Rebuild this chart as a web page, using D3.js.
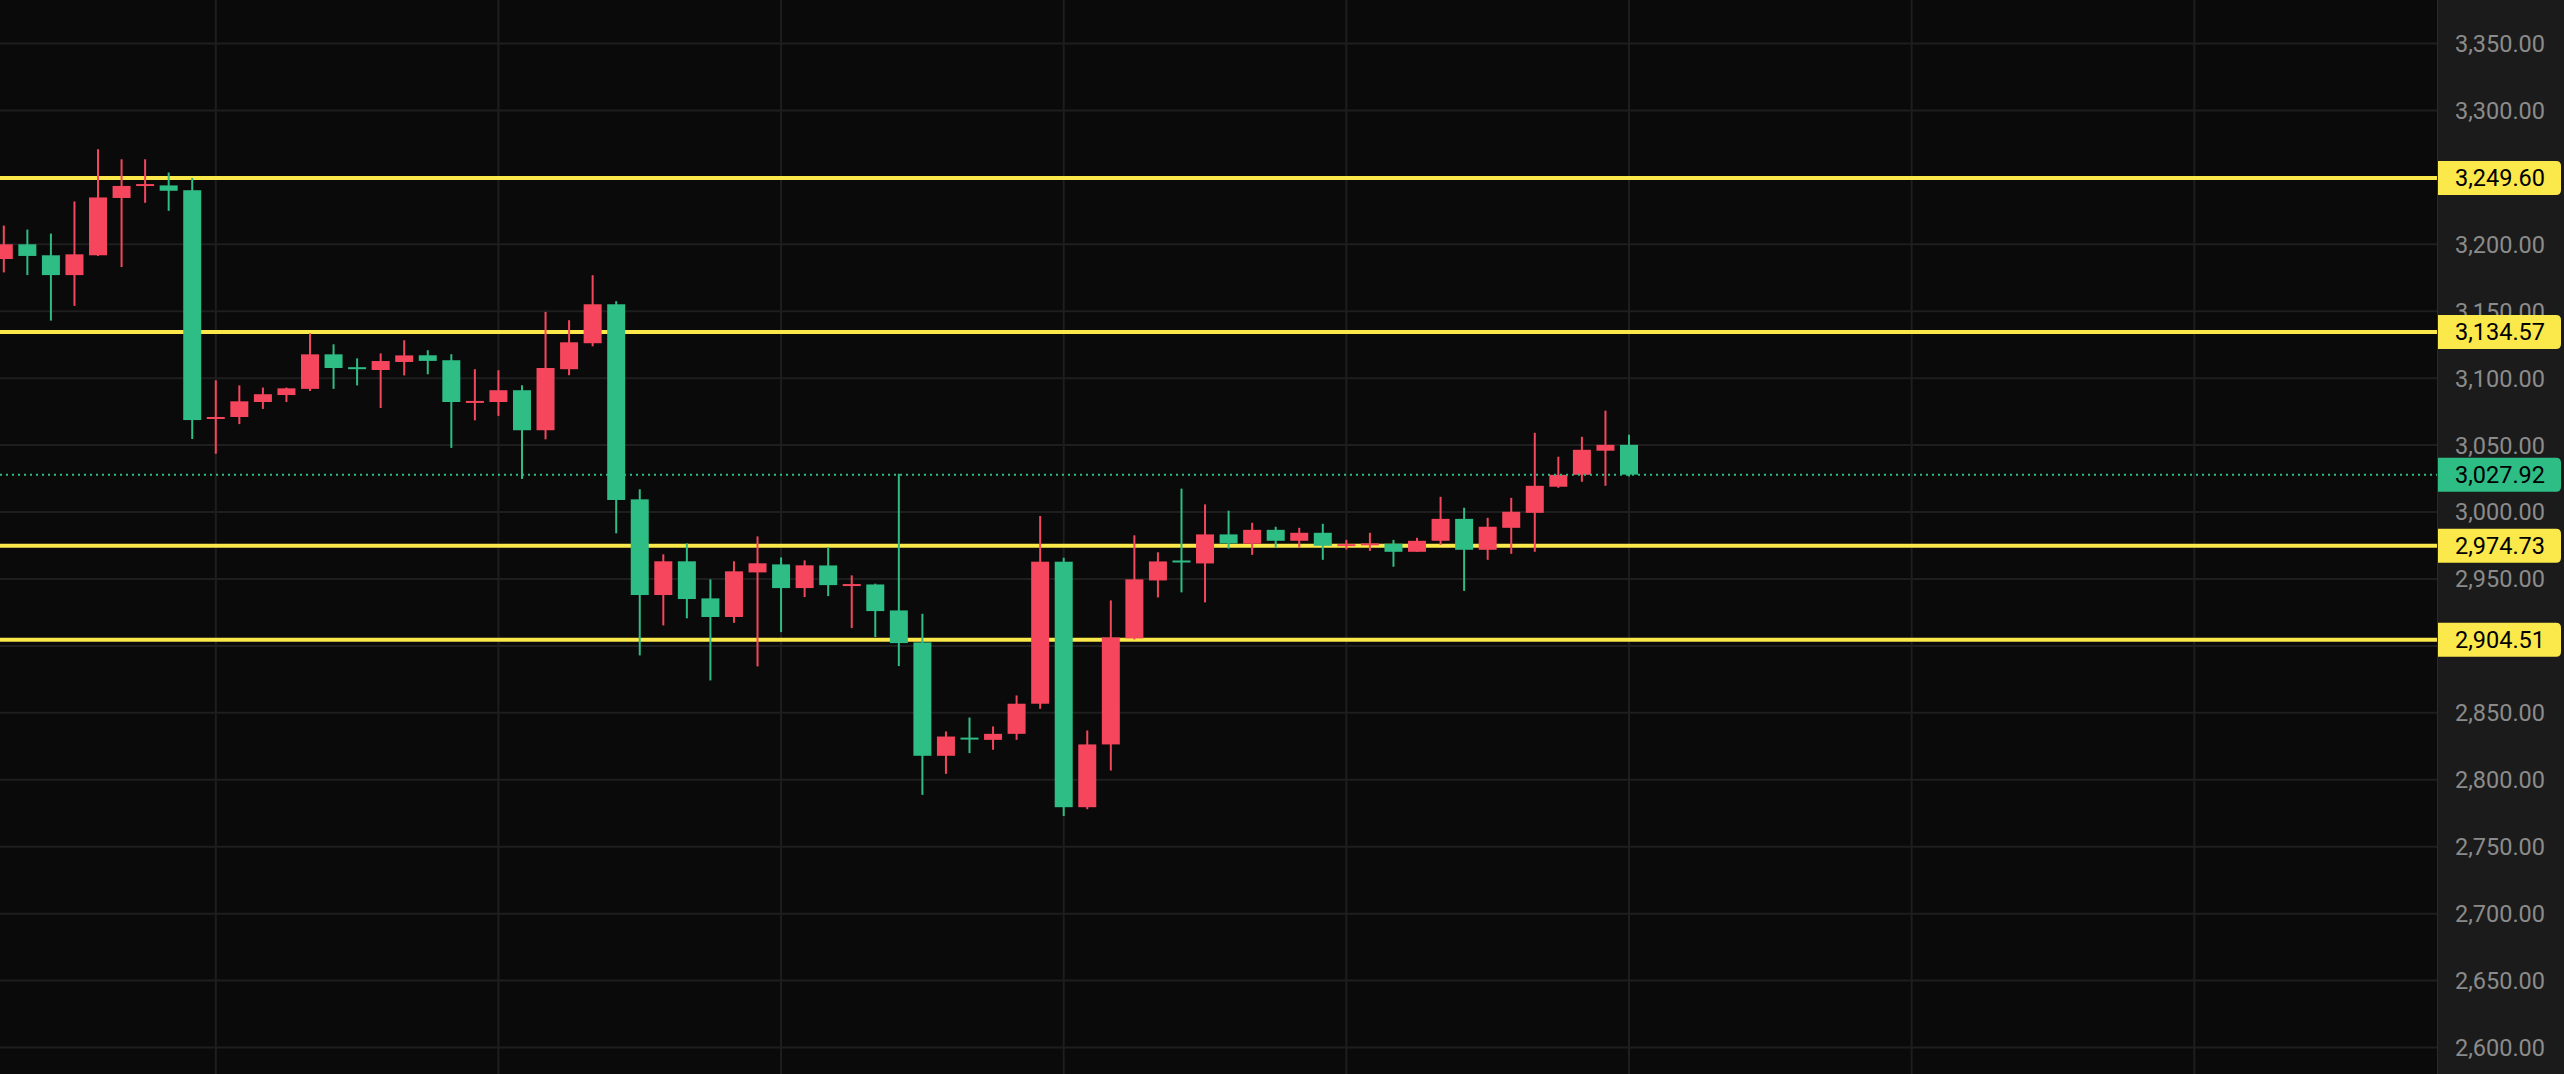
<!DOCTYPE html>
<html>
<head>
<meta charset="utf-8">
<script src="https://cdn.jsdelivr.net/npm/d3@7"></script>
<style>
  html, body { margin: 0; padding: 0; background: #0a0a0a; overflow: hidden; }
  svg { display: block; }
</style>
</head>
<body>
<svg id="chart" width="2564" height="1074"></svg>
<script>
// ---- Data ----
const opens  = [3189,3200,3191.8,3177,3191.8,3234.6,3244,3244,3240.4,3069.5,3071,3082.2,3087.4,3092,3117.8,3108.2,3106.1,3112.1,3117.1,3113.4,3082.4,3082.2,3091,3061.1,3106.7,3126.1,3155.2,3009.5,2938,2963.2,2935.5,2921.6,2954.9,2960.9,2943.2,2960.1,2945.5,2945.9,2926.5,2902.6,2817.9,2831.5,2829.8,2834.3,2856.8,2962.9,2779.5,2826.4,2905.6,2948.9,2963.8,2961.6,2983.3,2976.3,2986.7,2978.5,2984.5,2975.5,2976,2976.3,2970.3,2978.5,2994.9,2971.8,2988.2,2999.4,3018.9,3027.8,3045.8,3050.2];
const highs  = [3214,3211,3208,3232,3271,3263.5,3263.5,3253.6,3249.6,3098.4,3094.6,3093,3093,3133.5,3125.3,3114.8,3118.5,3128.3,3120.9,3117.9,3106.7,3105.9,3094.7,3149.5,3143.3,3176.9,3157.5,3017,2968.4,2976.6,2949.7,2963.2,2981.8,2966.1,2963.9,2973.8,2952.7,2946.5,3028.6,2924,2836.1,2846.5,2839.8,2863,2997,2965.9,2836.8,2934,2982.6,2969.9,3017.5,3005.7,3001,2992,2989,2988.2,2991.2,2979.2,2984.5,2979.2,2980.7,3011.4,3003.2,2995.7,3010.6,3059.2,3041.3,3056.2,3075.7,3057.7];
const lows   = [3179,3177,3143,3154,3191.3,3183,3231,3225,3054.5,3043.5,3065.7,3077,3082.2,3090.4,3092,3094.6,3077.7,3102.1,3102.9,3047.9,3068.5,3071.8,3024.7,3054.3,3102.2,3123.8,2984.1,2892.9,2915.3,2920.6,2874.2,2917.3,2884.7,2910.3,2936.5,2937.2,2913.3,2906.6,2884.9,2788.7,2804.4,2819.9,2822.4,2829.8,2853,2773,2778,2806.9,2904.8,2936.2,2940,2932.5,2972.7,2968,2973.5,2973.5,2964.3,2972,2971,2959.1,2970.3,2975.5,2941.1,2964.3,2968.8,2970.3,3018.1,3022.6,3019.6,3026.5];
const closes = [3200,3191.3,3177,3192.5,3235,3243.6,3245,3240,3068.7,3071,3082.7,3088,3092.4,3117.8,3107.6,3107.4,3112.8,3117,3112.9,3082.2,3083,3091,3061.1,3107.6,3126.8,3155.2,3009,2938,2963.2,2935,2921.6,2955.7,2961.7,2943.2,2960.2,2945.4,2946.2,2926,2902.1,2817.9,2832.3,2830.5,2834.3,2856.8,2962.9,2779.5,2826.4,2906.3,2949.7,2963.1,2963,2983.3,2976.5,2986.7,2978.5,2984.5,2974.8,2976,2976.6,2970.3,2978.5,2994.9,2971.8,2989,3000.2,3019.6,3027.8,3046.5,3050.2,3027.92];
const levels = [3249.60, 3134.57, 2974.73, 2904.51];
const lastPrice = 3027.92;
const priceTicks = [3350,3300,3250,3200,3150,3100,3050,3000,2950,2900,2850,2800,2750,2700,2650,2600];
// tick labels that the price badges cover completely in the reference are not drawn
const priceTickLabels = [3350,3300,3200,3150,3100,3050,3000,2950,2850,2800,2750,2700,2650,2600];
const timeGridIdx = [9,21,33,45,57,69,81,93];

// ---- Layout ----
const W = 2564, H = 1074, plotRight = 2437;
const UP = "#f6465d", DOWN = "#2ebd85", YELLOW = "#fbe84a";
const FONT = "Roboto, 'Liberation Sans', Arial, sans-serif";

const svg = d3.select("#chart");
const x = d3.scaleLinear().domain([0, 69]).range([3.8, 1629]);
const y = d3.scaleLinear().domain([2600, 3350]).range([1047.5, 43.5]);
const fmt = d3.format(",.2f");
const candles = opens.map((o, i) => ({ i, o, h: highs[i], l: lows[i], c: closes[i] }));

svg.append("rect").attr("width", W).attr("height", H).attr("fill", "#0a0a0a");

const plot = svg.append("g");
plot.append("clipPath").attr("id", "clip").append("rect").attr("width", plotRight).attr("height", H);
const pg = plot.append("g").attr("clip-path", "url(#clip)");

// grid
pg.selectAll("line.hg").data(priceTicks).join("line")
  .attr("x1", 0).attr("x2", plotRight)
  .attr("y1", d => y(d)).attr("y2", d => y(d))
  .attr("stroke", "#1e1e1e").attr("stroke-width", 2);
pg.selectAll("line.vg").data(timeGridIdx).join("line")
  .attr("x1", d => x(d)).attr("x2", d => x(d))
  .attr("y1", 0).attr("y2", H)
  .attr("stroke", "#1e1e1e").attr("stroke-width", 2);

// level lines
pg.selectAll("line.lvl").data(levels).join("line")
  .attr("x1", 0).attr("x2", plotRight)
  .attr("y1", d => y(d)).attr("y2", d => y(d))
  .attr("stroke", YELLOW).attr("stroke-width", 4);

// candles
const bw = 18;
const cg = pg.selectAll("g.c").data(candles).join("g");
cg.append("line")
  .attr("x1", d => x(d.i)).attr("x2", d => x(d.i))
  .attr("y1", d => y(d.h)).attr("y2", d => y(d.l))
  .attr("stroke", d => d.c >= d.o ? UP : DOWN).attr("stroke-width", 2);
cg.append("rect")
  .attr("x", d => x(d.i) - bw / 2).attr("width", bw)
  .attr("y", d => y(Math.max(d.o, d.c)))
  .attr("height", d => Math.max(2, Math.abs(y(d.o) - y(d.c))))
  .attr("fill", d => d.c >= d.o ? UP : DOWN);

// last price dotted line
pg.append("line")
  .attr("x1", 0).attr("x2", plotRight)
  .attr("y1", y(lastPrice)).attr("y2", y(lastPrice))
  .attr("stroke", DOWN).attr("stroke-width", 2).attr("stroke-dasharray", "2,4");

// ---- price axis panel ----
svg.append("rect").attr("x", plotRight).attr("y", 0).attr("width", W - plotRight).attr("height", H).attr("fill", "#1b1b1b");
svg.append("line").attr("x1", plotRight + 0.5).attr("x2", plotRight + 0.5).attr("y1", 0).attr("y2", H)
  .attr("stroke", "#2a2a2a").attr("stroke-width", 1);

svg.append("g").selectAll("text").data(priceTickLabels).join("text")
  .attr("x", 2545).attr("y", d => y(d)).attr("dy", "0.36em")
  .attr("text-anchor", "end").attr("font-family", FONT).attr("font-size", 23.5)
  .attr("fill", "#8b8b8b").text(d => fmt(d));

function labelPath(cy) {
  const x0 = plotRight + 1, x1 = 2561, h = 34, r = 5, t = cy - h / 2, b = cy + h / 2;
  return `M${x0},${t}H${x1 - r}Q${x1},${t} ${x1},${t + r}V${b - r}Q${x1},${b} ${x1 - r},${b}H${x0}Z`;
}
const labels = levels.map(v => ({ v, fill: YELLOW })).concat([{ v: lastPrice, fill: DOWN }]);
const lg = svg.append("g").selectAll("g").data(labels).join("g");
lg.append("path").attr("d", d => labelPath(y(d.v))).attr("fill", d => d.fill);
lg.append("text")
  .attr("x", 2545).attr("y", d => y(d.v)).attr("dy", "0.36em")
  .attr("text-anchor", "end").attr("font-family", FONT).attr("font-size", 23.5)
  .attr("fill", "#000").text(d => fmt(d.v));
</script>
</body>
</html>
